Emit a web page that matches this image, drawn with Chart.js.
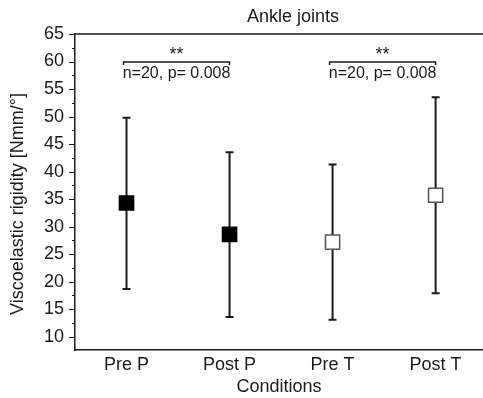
<!DOCTYPE html>
<html>
<head>
<meta charset="utf-8">
<script src="https://cdn.jsdelivr.net/npm/chart.js@4.4.0/dist/chart.umd.min.js"></script>
<style>
  html, body { margin: 0; padding: 0; background: #fff; overflow: hidden; }
  #wrap { width: 483px; height: 398px; position: relative; }
  canvas { display: block; }
</style>
</head>
<body>
<div id="wrap"><canvas id="chart"></canvas></div>
<script>
const conditions = ['Pre P', 'Post P', 'Pre T', 'Post T'];
const means = [34.3, 28.6, 27.2, 35.7];
const upper = [49.8, 43.5, 41.3, 53.5];
const lower = [18.7, 13.6, 13.1, 17.9];
const filled = [true, true, false, false];
const brackets = [[1, 2], [3, 4]];
const bracketStars = ['**', '**'];
const bracketNotes = ['n=20, p= 0.008', 'n=20, p= 0.008'];
const bracketLevel = 59.9;
const yTicks = [10, 15, 20, 25, 30, 35, 40, 45, 50, 55, 60, 65];

const FONT = "'Liberation Sans', Arial, sans-serif";
const INK = '#1a1a1a';

// error bars, frame, ticks and bracket notes
const extras = {
  id: 'extras',
  beforeDatasetsDraw(chart) {
    const { ctx, scales: { x, y } } = chart;
    ctx.save();
    ctx.strokeStyle = INK;
    ctx.lineWidth = 2;
    means.forEach((m, i) => {
      const px = x.getPixelForValue(i + 1);
      const top = y.getPixelForValue(upper[i]);
      const bot = y.getPixelForValue(lower[i]);
      ctx.beginPath();
      ctx.moveTo(px, top); ctx.lineTo(px, bot);
      ctx.moveTo(px - 4, top); ctx.lineTo(px + 4, top);
      ctx.moveTo(px - 4, bot); ctx.lineTo(px + 4, bot);
      ctx.stroke();
    });
    ctx.restore();
  },
  afterDraw(chart) {
    const { ctx, chartArea: a, scales: { x, y } } = chart;
    ctx.save();
    ctx.strokeStyle = INK;
    ctx.lineWidth = 1.5;
    // top frame line
    ctx.beginPath();
    ctx.moveTo(a.left, a.top); ctx.lineTo(a.right, a.top);
    ctx.stroke();
    // y ticks: majors longer, minors between
    ctx.lineWidth = 1;
    yTicks.forEach(v => {
      const py = Math.round(y.getPixelForValue(v)) + 0.5;
      ctx.beginPath(); ctx.moveTo(a.left - 6, py); ctx.lineTo(a.left, py); ctx.stroke();
      const mv = v - 2.5;
      if (mv >= y.min) {
        const my = Math.round(y.getPixelForValue(mv)) + 0.5;
        ctx.beginPath(); ctx.moveTo(a.left - 3, my); ctx.lineTo(a.left, my); ctx.stroke();
      }
    });
    ctx.fillStyle = INK;
    ctx.textAlign = 'center';
    ctx.textBaseline = 'middle';
    // category labels under the x axis
    ctx.font = '18px ' + FONT;
    conditions.forEach((c, i) => {
      ctx.fillText(c, x.getPixelForValue(i + 1), a.bottom + 15);
    });
    // brackets
    const by = y.getPixelForValue(bracketLevel);
    ctx.lineWidth = 1.5;
    brackets.forEach((b, i) => {
      const x1 = x.getPixelForValue(b[0]) - 3;
      const x2 = x.getPixelForValue(b[1]);
      ctx.beginPath();
      ctx.moveTo(x1, by + 3); ctx.lineTo(x1, by); ctx.lineTo(x2, by); ctx.lineTo(x2, by + 3);
      ctx.stroke();
      const cx = (x1 + x2) / 2;
      ctx.font = '18px ' + FONT;
      ctx.fillText(bracketStars[i], cx, by - 7);
      ctx.font = '16px ' + FONT;
      ctx.fillText(bracketNotes[i], cx, by + 12);
    });
    // chart title
    ctx.font = '18px ' + FONT;
    ctx.fillText('Ankle joints', 293, 17);
    // y axis title
    ctx.translate(18, 204);
    ctx.rotate(-Math.PI / 2);
    ctx.fillText('Viscoelastic rigidity [Nmm/\u00b0]', 0, 0);
    ctx.restore();
  }
};

new Chart(document.getElementById('chart'), {
  type: 'scatter',
  data: {
    datasets: [{
      data: means.map((m, i) => ({ x: i + 1, y: m })),
      pointStyle: 'rect',
      pointRadius: 10,
      pointHoverRadius: 10,
      pointBackgroundColor: filled.map(f => f ? '#000' : '#fff'),
      pointBorderColor: filled.map(f => f ? '#000' : '#555'),
      pointBorderWidth: 1.5
    }]
  },
  options: {
    responsive: true,
    maintainAspectRatio: false,
    animation: false,
    layout: { autoPadding: false, padding: { top: 34, right: 0, left: 0, bottom: 0 } },
    plugins: { legend: { display: false }, tooltip: { enabled: false }, title: { display: false } },
    scales: {
      x: {
        type: 'linear',
        min: 0.5,
        max: 4.46,
        afterFit: s => { s.height = 48; },
        ticks: { display: false },
        grid: { display: false, drawTicks: false },
        border: { display: true, color: INK, width: 1.5 },
        title: {
          display: true,
          text: 'Conditions',
          font: { family: FONT, size: 18 },
          color: INK,
          padding: { top: 3, bottom: 0 }
        }
      },
      y: {
        min: 7.6,
        max: 65,
        afterBuildTicks: s => { s.ticks = yTicks.map(v => ({ value: v })); },
        afterFit: s => { s.width = 75; s.paddingTop = 0; s.paddingBottom = 0; },
        ticks: {
          font: { family: FONT, size: 18 },
          color: INK,
          padding: 11
        },
        grid: { display: false, drawTicks: false },
        border: { display: true, color: INK, width: 1.5 }
      }
    }
  },
  plugins: [extras]
});
</script>
</body>
</html>
